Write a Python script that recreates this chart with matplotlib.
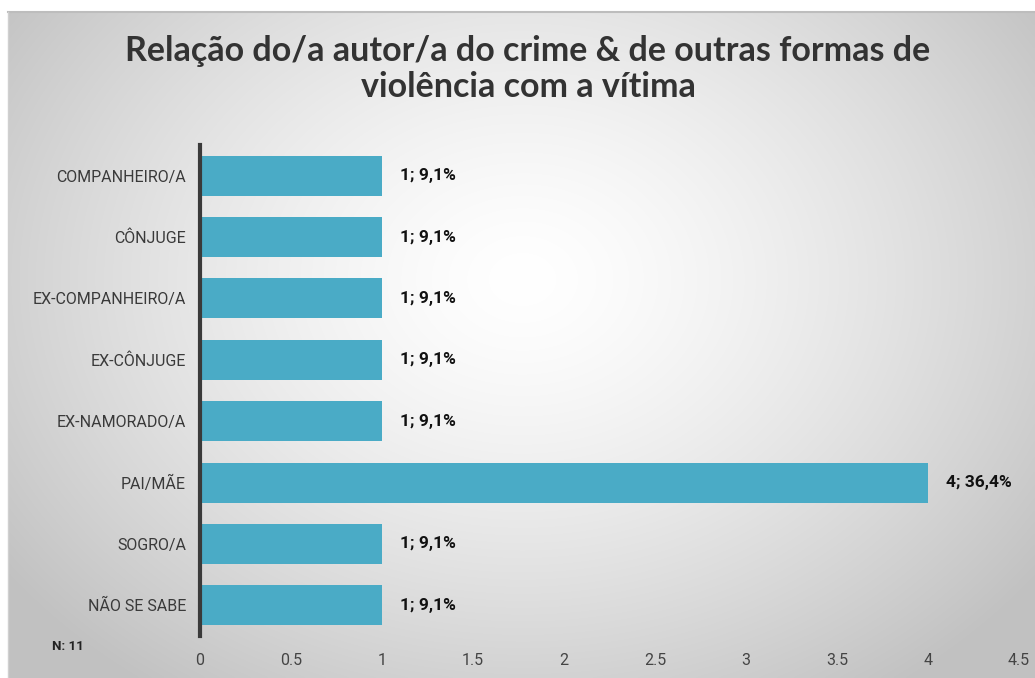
import numpy as np
import matplotlib
matplotlib.use("Agg")
import matplotlib.pyplot as plt

categories = ["COMPANHEIRO/A", "CÔNJUGE", "EX-COMPANHEIRO/A", "EX-CÔNJUGE",
              "EX-NAMORADO/A", "PAI/MÃE", "SOGRO/A", "NÃO SE SABE"]
counts = [1, 1, 1, 1, 1, 4, 1, 1]
percents = ["9,1%", "9,1%", "9,1%", "9,1%", "9,1%", "36,4%", "9,1%", "9,1%"]
xticks = [0, 0.5, 1, 1.5, 2, 2.5, 3, 3.5, 4, 4.5]
xticklabels = ["0", "0.5", "1", "1.5", "2", "2.5", "3", "3.5", "4", "4.5"]
title = "Relação do/a autor/a do crime & de outras formas de\nviolência com a vítima"
note = "N: 11"

W, H = 1035, 678
fig = plt.figure(figsize=(W / 100, H / 100), dpi=100)
fig.patch.set_facecolor("white")

# background radial gradient panel
bg = fig.add_axes([8 / W, 0, 1 - 8 / W, (H - 12) / H])
ny, nx = 300, 460
yy, xx = np.mgrid[0:ny, 0:nx]
cx, cy = nx * 0.50, ny * 0.40
r = np.sqrt(((xx - cx) / (nx * 0.62)) ** 2 + ((yy - cy) / (ny * 0.75)) ** 2)
val = np.clip(1.0 - 0.24 * r ** 1.4, 0.76, 1.0)
img = np.dstack([val, val, val])
bg.imshow(img, aspect="auto", extent=[0, 1, 0, 1], origin="upper", interpolation="bicubic")
bg.set_axis_off()
fig.add_artist(plt.Line2D([8 / W, 1], [(H - 12) / H, (H - 12) / H], color="#bdbdbd", lw=1.5))
fig.add_artist(plt.Line2D([8 / W, 8 / W], [0, (H - 12) / H], color="#d0d0d0", lw=1))

ax = fig.add_axes([200 / W, (H - 636) / H, (1019 - 200) / W, (636 - 145) / H])
ax.patch.set_alpha(0)
y = np.arange(len(categories))
ax.barh(y, counts, height=0.65, color="#4aabc6", zorder=2)
ax.set_ylim(len(categories) - 0.5, -0.5)
ax.set_xlim(0, 4.5)
for s in ["top", "right", "bottom"]:
    ax.spines[s].set_visible(False)
ax.spines["left"].set_color("#3a3a3a")
ax.spines["left"].set_linewidth(3)
ax.set_yticks(y)
ax.set_yticklabels(categories, fontsize=11.5, color="#3a3a3a", family="Roboto")
ax.tick_params(axis="y", length=0, pad=10)
ax.set_xticks(xticks)
ax.set_xticklabels(xticklabels, fontsize=11.5, color="#444444", family="Roboto")
ax.tick_params(axis="x", length=0, pad=12)
for yi, c, p in zip(y, counts, percents):
    ax.text(c + 0.1, yi, f"{c}; {p}", va="center", ha="left", fontsize=12.5,
            fontweight="bold", color="#111111", family="Roboto")

fig.text(528 / W, 1 - 69 / H, title, ha="center", va="center", fontsize=24.5,
         color="#333333", family="Lato", fontweight="bold", linespacing=1.12)
fig.text(52 / W, 1 - 647 / H, note, ha="left", va="center", fontsize=9.5,
         color="#222222", family="Roboto", fontweight="bold")

fig.savefig("out.png", dpi=100)
